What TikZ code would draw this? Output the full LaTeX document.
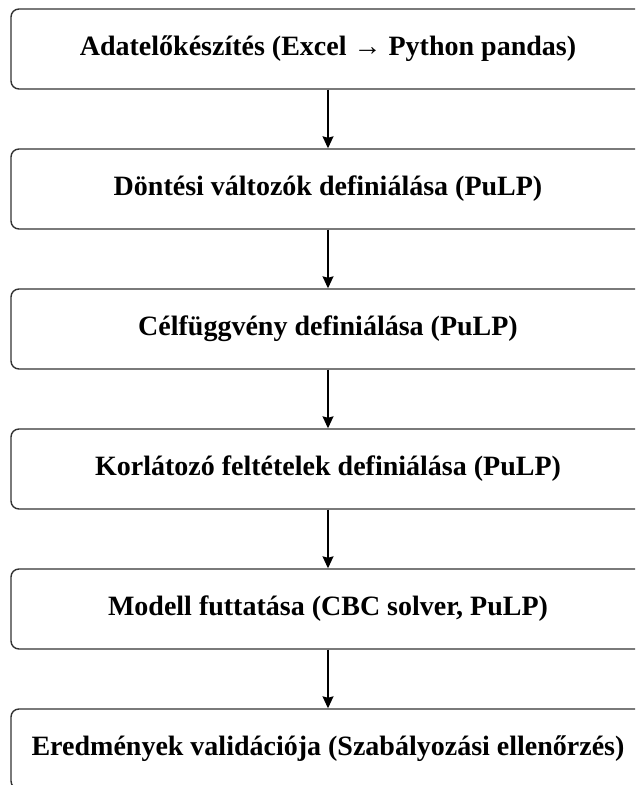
\documentclass[tikz,border=0pt]{standalone}
\usepackage{fontspec}
\setmainfont{Liberation Serif}
\usetikzlibrary{arrows.meta}

\begin{document}
\begin{tikzpicture}[x=1pt, y=1pt,
        stage/.style={draw=black!80, line width=1.4pt, rounded corners=8pt, minimum width=634pt, minimum height=80pt, inner sep=0pt, font=\bfseries\fontsize{28}{32}\selectfont},
        flow/.style={-{Stealth[length=12pt, width=11pt, inset=1.5pt]}, line width=1.3pt}]
        \useasboundingbox (0, 0) rectangle (635, 785);
        \clip (0, 0) rectangle (635, 785);
        \node (1) at (328, 736) [stage] {Adatelőkészítés (Excel → Python pandas)};
        \node (2) at (328, 596) [stage] {Döntési változók definiálása (PuLP)};
        \node (3) at (328, 456) [stage] {Célfüggvény definiálása (PuLP)};
        \node (4) at (328, 316) [stage] {Korlátozó feltételek definiálása (PuLP)};
        \node (5) at (328, 176) [stage] {Modell futtatása (CBC solver, PuLP)};
        \node (6) at (328, 36) [stage] {Eredmények validációja (Szabályozási ellenőrzés)};
        \draw [flow] (1) -- (2);
        \draw [flow] (2) -- (3);
        \draw [flow] (3) -- (4);
        \draw [flow] (4) -- (5);
        \draw [flow] (5) -- (6);
    \end{tikzpicture}
\end{document}
